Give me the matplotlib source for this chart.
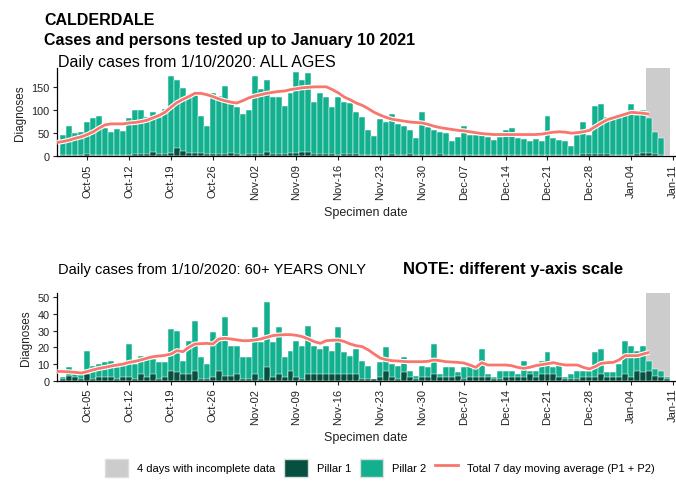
import matplotlib
matplotlib.use("Agg")
import matplotlib.pyplot as plt
import matplotlib.dates as mdates
import matplotlib.patheffects as pe
from matplotlib.patches import Patch
from matplotlib.lines import Line2D
import pandas as pd

plt.rcParams['font.family'] = ['Liberation Sans', 'DejaVu Sans']

# ---------------- data ----------------
dates = pd.date_range('2020-10-01', '2021-01-10', freq='D')
ma_dates = pd.date_range('2020-09-30', '2021-01-07', freq='D')

# ALL AGES: total daily cases (Pillar 1 + Pillar 2) and Pillar 1
total_all = [45, 65, 50, 52, 73, 83, 88, 62, 53, 58, 55, 82, 100, 101, 84, 96, 84, 103, 174, 165, 148, 131, 133, 88, 66,
             136, 131, 152, 114, 107, 91, 100, 174, 146, 165, 128, 127, 109, 136, 183, 164, 180, 118, 136, 129, 106, 129, 118, 115, 96,
             84, 57, 44, 80, 75, 91, 70, 65, 57, 39, 95, 64, 57, 52, 50, 32, 42, 65, 47, 47, 47, 42, 36, 41, 57,
             62, 40, 37, 34, 37, 32, 86, 40, 36, 34, 23, 47, 75, 47, 108, 114, 84, 87, 91, 93, 113, 90, 100, 82, 53, 40, 1]
pillar1_all = [2, 3, 2, 2, 6, 2, 2, 2, 2, 2, 2, 3, 5, 6, 5, 10, 6, 6, 8, 18, 12, 8, 8, 8, 5,
               6, 4, 6, 8, 5, 3, 4, 6, 4, 10, 6, 5, 6, 8, 8, 9, 10, 5, 5, 5, 4, 3, 5, 6, 5,
               3, 3, 2, 2, 2, 6, 2, 2, 6, 2, 3, 2, 2, 4, 2, 2, 2, 2, 2, 2, 2, 2, 3, 2, 2,
               2, 2, 2, 3, 2, 2, 3, 2, 2, 2, 2, 3, 4, 6, 6, 6, 4, 3, 3, 3, 3, 4, 8, 8, 5, 3, 1]
ma_all = [30, 32, 35, 39, 42, 47, 53, 61, 68, 70,
          70, 70, 72, 73, 75, 78, 83, 88, 95, 106,
          116, 123, 129, 136, 136, 133, 129, 124, 120, 117,
          115, 120, 126, 130, 133, 136, 138, 140, 141, 144,
          146, 148, 149, 150, 150, 150, 144, 137, 128, 122,
          115, 110, 103, 95, 89, 84, 80, 78, 76, 74,
          73, 72, 69, 65, 62, 60, 58, 56, 55, 53,
          51, 49, 48, 47, 47, 47, 47, 47, 47, 47,
          47, 48, 50, 52, 53, 52, 50, 51, 53, 56,
          64, 72, 79, 83, 87, 91, 95, 94, 93, 91]

# 60+ YEARS ONLY
total_60 = [2, 8, 4, 4, 18, 9, 10, 11, 12, 8, 11, 22, 10, 15, 14, 13, 11, 11, 31, 30, 12, 24, 36, 14, 10,
            29, 26, 38, 21, 21, 14, 14, 32, 23, 47, 23, 32, 14, 18, 24, 21, 33, 21, 19, 21, 18, 32, 17, 15, 19,
            12, 9, 1, 11, 20, 10, 9, 14, 6, 3, 9, 8, 22, 4, 8, 8, 5, 8, 9, 8, 19, 4, 2, 6, 6,
            6, 4, 12, 6, 6, 12, 17, 8, 10, 2, 4, 6, 6, 6, 17, 19, 5, 5, 10, 24, 21, 18, 21, 12, 7, 6, 2]
pillar1_60 = [1, 3, 2, 1, 4, 1, 2, 2, 2, 1, 2, 2, 1, 4, 2, 4, 1, 2, 6, 5, 4, 4, 6, 1, 1,
              2, 6, 3, 3, 4, 1, 1, 4, 1, 8, 2, 4, 2, 6, 2, 1, 4, 4, 4, 4, 4, 4, 4, 4, 4,
              1, 1, 1, 2, 6, 2, 1, 5, 2, 1, 2, 2, 4, 2, 2, 2, 3, 1, 2, 2, 2, 2, 1, 1, 2,
              2, 2, 2, 4, 2, 4, 4, 4, 2, 1, 1, 1, 2, 2, 2, 4, 2, 2, 2, 4, 2, 6, 5, 6, 3, 2, 1]
ma_60 = [5.6, 5.5, 5.3, 5.0, 4.6, 5.5, 6.5, 7.4, 8.0, 8.8,
         9.4, 10.0, 11.0, 11.6, 12.5, 13.5, 14.4, 14.8, 15.2, 16.0,
         18.0, 17.4, 20.0, 22.0, 22.2, 22.4, 22.0, 25.0, 25.4, 25.0,
         24.5, 24.0, 24.0, 24.4, 25.0, 26.0, 27.0, 27.4, 27.6, 27.6,
         27.2, 26.4, 25.0, 23.4, 22.4, 24.0, 24.2, 24.4, 23.5, 22.0,
         21.0, 20.4, 18.5, 16.0, 13.6, 12.6, 12.0, 11.8, 11.5, 11.4,
         11.4, 11.4, 11.6, 12.4, 12.0, 11.4, 11.2, 11.0, 10.6, 9.4,
         8.0, 10.8, 9.4, 9.4, 9.4, 9.4, 9.0, 8.0, 7.4, 8.0,
         9.0, 9.6, 10.2, 10.8, 10.0, 9.4, 9.4, 9.4, 8.0, 7.0,
         8.5, 10.4, 10.8, 11.0, 12.5, 15.0, 15.0, 15.0, 16.0, 17.0]

incomplete_days = 4
tick_dates = pd.date_range('2020-10-05', '2021-01-11', freq='7D')

# ---------------- style ----------------
C_P1 = '#06503f'
C_P2 = '#12b08e'
C_MA = '#f8766d'
C_GREY = '#cccccc'

W, H = 676, 485
fig = plt.figure(figsize=(W / 100, H / 100), dpi=100)


def fx(px):
    return px / W


def fy(py):
    return 1 - py / H


left_px, right_px = 56.5, 676
ax1 = fig.add_axes([fx(left_px), fy(157.3), fx(right_px - left_px), (157.3 - 69.3) / H])
ax2 = fig.add_axes([fx(left_px), fy(381.7), fx(right_px - left_px), (381.7 - 294.3) / H])

day = pd.Timedelta(days=1)


def draw(ax, total, p1, ma, ymax, yticks):
    ax.axvspan(dates[-incomplete_days] - day / 2, dates[-1] + day / 2, color=C_GREY, zorder=1, lw=0)
    ax.bar(dates, total, width=1.0, color=C_P2, edgecolor='white', linewidth=0.35, zorder=2)
    ax.bar(dates, p1, width=1.0, color=C_P1, edgecolor='white', linewidth=0.35, zorder=3)
    ax.plot(ma_dates, ma, color=C_MA, lw=2.0, zorder=4, solid_capstyle='butt',
            path_effects=[pe.Stroke(linewidth=3.6, foreground='white'), pe.Normal()])
    ax.set_xlim(dates[0] - 1.15 * day, dates[0] + 102.5 * day)
    ax.set_ylim(0, ymax)
    ax.set_yticks(yticks)
    ax.set_xticks(tick_dates)
    ax.xaxis.set_major_formatter(mdates.DateFormatter('%b-%d'))
    ax.tick_params(axis='x', labelrotation=90, labelsize=8, length=3, width=0.8, pad=2, colors='#222222')
    ax.tick_params(axis='y', labelsize=7.8, length=3, width=0.8, pad=2, colors='#222222')
    for s in ['top', 'right']:
        ax.spines[s].set_visible(False)
    for s in ['left', 'bottom']:
        ax.spines[s].set_linewidth(0.9)
        ax.spines[s].set_color('black')
    ax.set_xlabel('Specimen date', fontsize=9, labelpad=5, color='#222222')
    ax.set_ylabel('Diagnoses', fontsize=8.5, labelpad=4, color='#222222')
    ax.set_facecolor('white')


draw(ax1, total_all, pillar1_all, ma_all, 190, [0, 50, 100, 150])
draw(ax2, total_60, pillar1_60, ma_60, 52.4, [0, 10, 20, 30, 40, 50])

# ---------------- texts ----------------
fig.text(fx(44), fy(25), 'CALDERDALE', fontsize=11.5, weight='bold', va='baseline', ha='left')
fig.text(fx(44), fy(45), 'Cases and persons tested up to January 10 2021', fontsize=11.5, weight='bold',
         va='baseline', ha='left')
fig.text(fx(58), fy(67), 'Daily cases from 1/10/2020: ALL AGES', fontsize=11.5, va='baseline', ha='left')
fig.text(fx(58), fy(274), 'Daily cases from 1/10/2020: 60+ YEARS ONLY', fontsize=10.5, va='baseline', ha='left')
fig.text(fx(403), fy(274), 'NOTE: different y-axis scale', fontsize=12, weight='bold', va='baseline', ha='left')

# ---------------- legend ----------------
handles = [Patch(facecolor=C_GREY, edgecolor='#dddddd'),
           Patch(facecolor=C_P1, edgecolor='#dddddd'),
           Patch(facecolor=C_P2, edgecolor='#dddddd'),
           Line2D([], [], color=C_MA, lw=2)]
labels = ['4 days with incomplete data', 'Pillar 1', 'Pillar 2', 'Total 7 day moving average (P1 + P2)']
fig.legend(handles, labels, loc='center', bbox_to_anchor=(fx(380), fy(469)), ncol=4, frameon=False,
           fontsize=8, handlelength=2.1, handleheight=2.1, handletextpad=0.8, columnspacing=0.8)

fig.savefig('out.png', dpi=100, facecolor='white')
